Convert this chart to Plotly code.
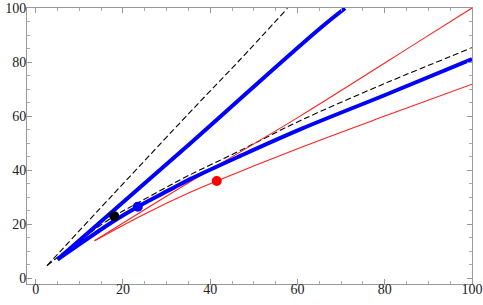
import plotly.graph_objects as go

# Steep dashed curve
dash_hi_x = [2.6, 18.0, 35.1, 38.5, 46.5, 57.7]
dash_hi_y = [4.7, 31.5, 61.0, 66.8, 80.3, 99.9]

# Lower dashed curve
dash_lo_x = [2.6, 10.0, 18.0, 23.4, 30.9, 35.0, 46.9, 60.6, 80.5, 100.0]
dash_lo_y = [4.7, 14.0, 23.0, 27.9, 34.5, 38.0, 47.3, 58.3, 72.4, 85.3]

# Upper red line
red_hi_x = [13.5, 35.4, 60.6, 88.4, 100.0]
red_hi_y = [13.9, 35.7, 60.0, 88.2, 100.0]

# Lower red curve
red_lo_x = [13.5, 25.0, 35.4, 41.5, 60.6, 80.5, 100.0]
red_lo_y = [13.9, 23.8, 31.8, 36.0, 48.3, 60.3, 71.8]

# Upper thick blue line
blue_hi_x = [5.0, 35.4, 46.5, 65.2, 70.9]
blue_hi_y = [7.0, 49.9, 65.9, 92.5, 99.9]

# Lower thick blue curve
blue_lo_x = [5.0, 18.0, 23.4, 30.9, 35.4, 46.9, 60.6, 80.5, 100.0]
blue_lo_y = [7.0, 21.3, 26.5, 32.9, 36.7, 45.3, 55.1, 68.1, 81.1]

# Points
black_pt = (18.0, 23.0)
blue_pt = (23.4, 26.5)
red_pt = (41.5, 36.0)

x_ticks = [0, 20, 40, 60, 80, 100]
y_ticks = [0, 20, 40, 60, 80, 100]

fig = go.Figure()
for xs, ys in [(dash_hi_x, dash_hi_y), (dash_lo_x, dash_lo_y)]:
    fig.add_trace(go.Scatter(x=xs, y=ys, mode="lines", line=dict(color="black", width=1.1, dash="6px,3px", shape="spline"), hoverinfo="skip"))
for xs, ys in [(red_hi_x, red_hi_y), (red_lo_x, red_lo_y)]:
    fig.add_trace(go.Scatter(x=xs, y=ys, mode="lines", line=dict(color="#ff2020", width=1.1, shape="spline"), hoverinfo="skip"))
for xs, ys in [(blue_hi_x, blue_hi_y), (blue_lo_x, blue_lo_y)]:
    fig.add_trace(go.Scatter(x=xs, y=ys, mode="lines", line=dict(color="#0000ff", width=4, shape="spline"), hoverinfo="skip"))
for (px, py), c in [(black_pt, "black"), (blue_pt, "#0000ff"), (red_pt, "#ff0000")]:
    fig.add_trace(go.Scatter(x=[px], y=[py], mode="markers", marker=dict(color=c, size=10), hoverinfo="skip"))

axis_common = dict(
    showgrid=False, zeroline=False, showline=True, linecolor="#999999", linewidth=1,
    mirror="ticks", ticks="inside", ticklen=5, tickcolor="#999999", tickwidth=1,
    minor=dict(ticks="inside", ticklen=3, tickcolor="#aaaaaa", dtick=5, showgrid=False),
    tickfont=dict(family="Liberation Serif", size=14, color="#222222"),
    automargin=False,
)
fig.update_xaxes(range=[-2.0, 100], tickvals=x_ticks, ticklabelstandoff=-8, **axis_common)
fig.update_yaxes(range=[-2.1, 100], tickvals=y_ticks, ticklabelstandoff=-3, **axis_common)
fig.update_layout(
    width=483, height=305, showlegend=False,
    margin=dict(l=27, r=11, t=8, b=21),
    plot_bgcolor="white", paper_bgcolor="white",
)
fig.write_html(
    "out.html",
    config={"displayModeBar": False},
    post_script="document.body.style.margin='0';document.body.style.overflow='hidden';",
)
